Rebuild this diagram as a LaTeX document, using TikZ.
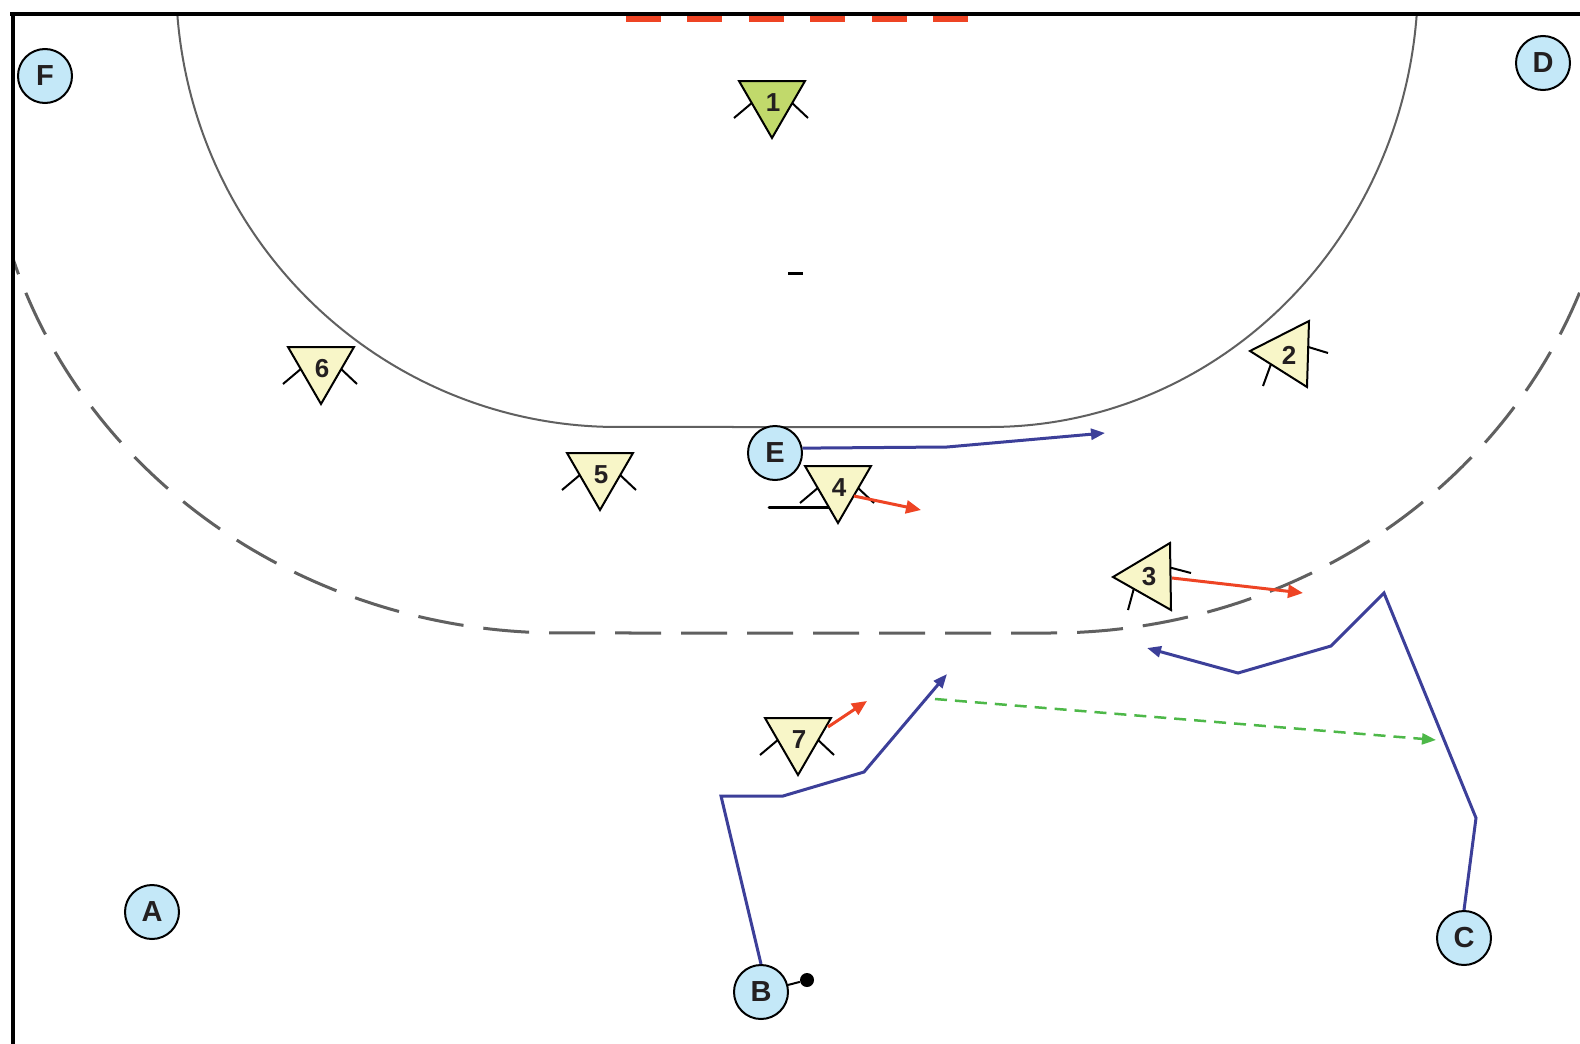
\documentclass[tikz,border=0pt]{standalone}
\usepackage{fontspec}
\setmainfont{Liberation Sans}
\usetikzlibrary{arrows.meta}
\definecolor{plblue}{HTML}{C4E8F8}
\definecolor{triyel}{HTML}{F8F6C8}
\definecolor{gkgreen}{HTML}{C1D96B}
\definecolor{runblue}{HTML}{3C3F99}
\definecolor{redarr}{HTML}{EE4424}
\definecolor{passgreen}{HTML}{4DB848}
\definecolor{ink}{HTML}{231F20}
\definecolor{lineg}{HTML}{606060}
\tikzset{
  player/.style={circle,draw=black,line width=1pt,fill=plblue,minimum size=27pt,inner sep=0pt,
    font=\fontsize{14.5}{14.5}\selectfont\bfseries,text=ink},
  trilabel/.style={inner sep=0pt,font=\fontsize{13}{13}\selectfont\bfseries,text=ink},
  trishape/.style={draw=black,line width=1pt,line join=miter},
  arm/.style={draw=black,line width=1pt},
  ballstyle/.style={circle,fill=black,minimum size=7pt,inner sep=0pt},
  run/.style={draw=runblue,line width=1.5pt,line join=miter,-{Triangle[length=7pt,width=5.5pt]}},
  move/.style={draw=redarr,line width=1.5pt,-{Triangle[length=7.5pt,width=6.5pt]}},
  pass/.style={draw=passgreen,line width=1.25pt,dash pattern=on 6pt off 4pt,-{Triangle[length=7pt,width=5.5pt]}},
  sixm/.style={draw=lineg,line width=1pt},
  ninem/.style={draw=lineg,line width=1.5pt,dash pattern=on 23pt off 10pt}
}
\newcommand{\DownTri}[5]{%
  \draw[arm] ({#2-19},{#3+21}) -- ({#2-38},{#3+37}) ({#2+19},{#3+21}) -- ({#2+36},{#3+37});
  \draw[trishape,fill=#5] ({#2-33},#3) -- ({#2+33},#3) -- (#2,{#3+57}) -- cycle;
  \node[trilabel] (#1) at ({#2+1},{#3+22}) {#4};
}
\begin{document}
\begin{tikzpicture}[x=0.5pt,y=-0.5pt]
\useasboundingbox (0,0) rectangle (1580,1044);
\fill[white] (0,0) rectangle (1580,1044);
% field lines
\begin{scope}
\clip (14,14) rectangle (1580,1044);
\draw[sixm] plot[domain=180:90,samples=90] ({617+441*cos(\x)},{-20+447*sin(\x)}) -- (990,427)
  -- plot[domain=90:0,samples=90] ({990+428*cos(\x)},{-20+447*sin(\x)});
\draw[ninem] plot[domain=180:90,samples=90] ({560+573*cos(\x)},{100+533*sin(\x)}) -- (1050,633)
  -- plot[domain=90:0,samples=90] ({1050+568*cos(\x)},{100+533*sin(\x)});
\end{scope}
\foreach \gx in {625.7,687.3,748.7,810,871.7,933}
  \fill[redarr] (\gx,15.5) rectangle ++(35,6);
\draw[line width=2pt] (10,14) -- (1580,14);
\draw[line width=2pt] (13,12) -- (13,1044);
\draw[line width=1.5pt] (788,273) -- (803,273);
% players
\node[player] (F) at (45,76) {F};
\node[player] (D) at (1543,63) {D};
\node[player] (E) at (775,453) {E};
\node[player] (A) at (152,912) {A};
\node[player] (B) at (761,992) {B};
\node[player] (C) at (1464,938) {C};
\node[ballstyle] (ball) at (807,980) {};
\draw[line width=1pt] (B) -- (ball);
% runs
\coordinate (eEnd) at (1105,433);
\coordinate (bEnd) at (947,674);
\coordinate (cEnd) at (1147,648);
\coordinate (gS) at (935,699);
\coordinate (gE) at (1436,740);
\draw[run] (E.10) -- (947,447) -- (eEnd);
\draw[run] (B.north) -- (721,796) -- (783,796) -- (864,772) -- (bEnd);
\draw[run] (C.north) -- (1476,818) -- (1384,593) -- (1331,646) -- (1238,673) -- (cEnd);
\draw[pass] (gS) -- (gE);
% defenders
\draw[line width=1.5pt,line cap=round] (769,507) -- (832,507);
\DownTri{t1}{772}{81}{1}{gkgreen}
\DownTri{t4}{838}{466}{4}{triyel}
\DownTri{t5}{600}{453}{5}{triyel}
\DownTri{t6}{321}{347}{6}{triyel}
\DownTri{t7}{798}{718}{7}{triyel}
% defender 2
\draw[arm] (1305,346) -- (1328,353) (1271,364) -- (1263,386);
\draw[trishape,fill=triyel] (1250,351) -- (1309,321) -- (1307,387) -- cycle;
\node[trilabel] (t2) at (1289,355) {2};
% defender 3
\draw[arm] (1168,567) -- (1191,573) (1134,588) -- (1128,610);
\draw[trishape,fill=triyel] (1113,577) -- (1170,543) -- (1171,610) -- cycle;
\node[trilabel] (t3) at (1149,577) {3};
% defender moves
\coordinate (m3s) at (1172,578);
\coordinate (m3e) at (1303,593);
\coordinate (m4s) at (854,496);
\coordinate (m4e) at (921,510);
\coordinate (m7s) at (828,727);
\coordinate (m7e) at (867,701);
\draw[move] (m3s) -- (m3e);
\draw[move] (m4s) -- (m4e);
\draw[move] (m7s) -- (m7e);
\end{tikzpicture}
\end{document}
